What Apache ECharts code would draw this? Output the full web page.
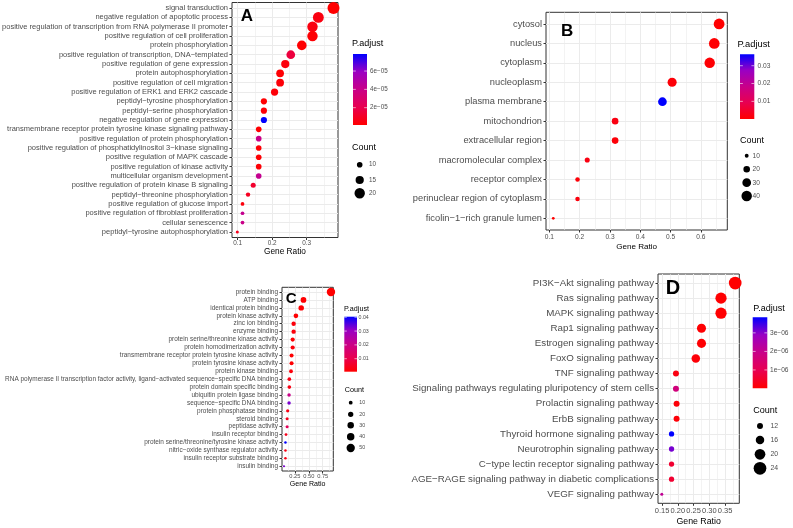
<!DOCTYPE html>
<html><head><meta charset="utf-8">
<script src="https://cdn.jsdelivr.net/npm/echarts@6/dist/echarts.min.js"></script>
<style>html,body{margin:0;padding:0;background:#fff}#c{width:793px;height:528px}</style>
</head><body><div id="c"></div>
<script>
// ---------- Panel A: GO biological process ----------
const termsA = ['signal transduction','negative regulation of apoptotic process','positive regulation of transcription from RNA polymerase II promoter','positive regulation of cell proliferation','protein phosphorylation','positive regulation of transcription, DNA−templated','positive regulation of gene expression','protein autophosphorylation','positive regulation of cell migration','positive regulation of ERK1 and ERK2 cascade','peptidyl−tyrosine phosphorylation','peptidyl−serine phosphorylation','negative regulation of gene expression','transmembrane receptor protein tyrosine kinase signaling pathway','positive regulation of protein phosphorylation','positive regulation of phosphatidylinositol 3−kinase signaling','positive regulation of MAPK cascade','positive regulation of kinase activity','multicellular organism development','positive regulation of protein kinase B signaling','peptidyl−threonine phosphorylation','positive regulation of glucose import','positive regulation of fibroblast proliferation','cellular senescence','peptidyl−tyrosine autophosphorylation'];
const ratioA = [0.378,0.334,0.317,0.317,0.286,0.254,0.238,0.223,0.223,0.207,0.176,0.176,0.176,0.161,0.161,0.161,0.161,0.161,0.161,0.145,0.130,0.114,0.114,0.114,0.099];
const countA = [24,21,20,20,18,16,15,14,14,13,11,11,11,10,10,10,10,10,10,9,8,7,7,7,6];
const padjA = [1.1e-6,5e-6,5e-6,2e-6,1.5e-6,1.6e-5,4e-6,2e-6,3e-6,3e-6,1.5e-6,2.5e-6,7.86e-5,1.5e-6,4e-5,2e-6,2e-6,2.5e-6,4.2e-5,1.2e-5,9e-6,4e-6,4.2e-5,4e-5,8e-6];
const xTicksA = [0.1,0.2,0.3];
const xTickLabelsA = ['0.1','0.2','0.3'];
const xMinorA = [0.15,0.25,0.35];
const cbTicksA = [2e-5,4e-5,6e-5];
const cbLabelsA = ['2e−05','4e−05','6e−05'];
const sizeLegendA = [10,15,20];

// ---------- Panel B: GO cellular component ----------
const termsB = ['cytosol','nucleus','cytoplasm','nucleoplasm','plasma membrane','mitochondrion','extracellular region','macromolecular complex','receptor complex','perinuclear region of cytoplasm','ficolin−1−rich granule lumen'];
const ratioB = [0.66,0.644,0.629,0.505,0.473,0.317,0.317,0.225,0.193,0.193,0.113];
const countB = [42,41,40,32,30,20,20,14,12,12,7];
const padjB = [2e-4,3e-4,5e-4,1e-3,0.0364,2e-3,1e-3,2e-3,1e-3,1.5e-3,1e-4];
const xTicksB = [0.1,0.2,0.3,0.4,0.5,0.6];
const xTickLabelsB = ['0.1','0.2','0.3','0.4','0.5','0.6'];
const xMinorB = [0.15,0.25,0.35,0.45,0.55,0.65];
const cbTicksB = [0.01,0.02,0.03];
const cbLabelsB = ['0.01','0.02','0.03'];
const sizeLegendB = [10,20,30,40];

// ---------- Panel C: GO molecular function ----------
const termsC = ['protein binding','ATP binding','identical protein binding','protein kinase activity','zinc ion binding','enzyme binding','protein serine/threonine kinase activity','protein homodimerization activity','transmembrane receptor protein tyrosine kinase activity','protein tyrosine kinase activity','protein kinase binding','RNA polymerase II transcription factor activity, ligand−activated sequence−specific DNA binding','protein domain specific binding','ubiquitin protein ligase binding','sequence−specific DNA binding','protein phosphatase binding','steroid binding','peptidase activity','insulin receptor binding','protein serine/threonine/tyrosine kinase activity','nitric−oxide synthase regulator activity','insulin receptor substrate binding','insulin binding'];
const ratioC = [0.898,0.404,0.363,0.268,0.227,0.227,0.21,0.21,0.19,0.19,0.18,0.15,0.15,0.145,0.145,0.12,0.11,0.11,0.09,0.08,0.08,0.08,0.054];
const countC = [51,23,21,15,13,13,12,12,11,11,10,9,9,8,8,7,6,6,5,4,4,4,3];
const padjC = [0.0006,0.0008,0.001,0.0008,0.002,0.002,0.001,0.002,0.001,0.001,0.002,0.003,0.003,0.0205,0.0325,0.003,0.004,0.012,0.004,0.0404,0.003,0.003,0.0325];
const xTicksC = [0.25,0.5,0.75];
const xTickLabelsC = ['0.25','0.50','0.75'];
const xMinorC = [0.125,0.375,0.625,0.875];
const cbTicksC = [0.01,0.02,0.03,0.04];
const cbLabelsC = ['0.01','0.02','0.03','0.04'];
const sizeLegendC = [10,20,30,40,50];

// ---------- Panel D: KEGG pathways ----------
const termsD = ['PI3K−Akt signaling pathway','Ras signaling pathway','MAPK signaling pathway','Rap1 signaling pathway','Estrogen signaling pathway','FoxO signaling pathway','TNF signaling pathway','Signaling pathways regulating pluripotency of stem cells','Prolactin signaling pathway','ErbB signaling pathway','Thyroid hormone signaling pathway','Neurotrophin signaling pathway','C−type lectin receptor signaling pathway','AGE−RAGE signaling pathway in diabetic complications','VEGF signaling pathway'];
const ratioD = [0.382,0.337,0.337,0.275,0.275,0.257,0.194,0.194,0.196,0.196,0.18,0.18,0.18,0.18,0.149];
const countD = [24,21,21,17,17,16,12,12,12,12,11,11,11,11,8];
const padjD = [1e-8,3e-8,3e-8,5e-8,5e-8,1e-7,2e-7,1.7e-6,1e-7,1e-7,3.84e-6,3.1e-6,6e-7,6e-7,2.1e-6];
const xTicksD = [0.15,0.2,0.25,0.3,0.35];
const xTickLabelsD = ['0.15','0.20','0.25','0.30','0.35'];
const xMinorD = [0.175,0.225,0.275,0.325,0.375];
const cbTicksD = [1e-6,2e-6,3e-6];
const cbLabelsD = ['1e−06','2e−06','3e−06'];
const sizeLegendD = [12,16,20,24];

// ---------- styling / layout ----------
const FONT = '"Liberation Sans", Arial, Helvetica, sans-serif';
const TEXT = '#4D4D4D';
const GRIDC = '#EBEBEB';
const BORDER = '#333333';
const STOPS = ['#FF0000','#E80050','#C90088','#9A00C3','#0000FF'];

const panels = [
  {letter:'A', terms:termsA, ratio:ratioA, count:countA, padj:padjA, xt:xTicksA, xl:xTickLabelsA, xm:xMinorA,
   cbt:cbTicksA, cbl:cbLabelsA, sl:sizeLegendA,
   grid:{left:232,top:2.5,width:106,height:235}, xmin:0.0835, xmax:0.391,
   yFont:7.5, xFont:6.4, xMargin:2.5, nameFont:8.3, nameGap:10.5,
   size:{cmin:6,cmax:24,dmin:3,dmax:12},
   L:{x:240.7,y:16,font:17},
   cb:{x:353,y:54,w:14,h:71,titleX:352,titleY:44,titleFont:9,labelX:370,font:6.3},
   leg:{titleX:352,titleY:148,titleFont:9,dotX:359.7,dotY:[164.7,180,193.3],labelX:369,font:6.3}},
  {letter:'B', terms:termsB, ratio:ratioB, count:countB, padj:padjB, xt:xTicksB, xl:xTickLabelsB, xm:xMinorB,
   cbt:cbTicksB, cbl:cbLabelsB, sl:sizeLegendB,
   grid:{left:546,top:12.3,width:181.3,height:217.7}, xmin:0.089, xmax:0.687,
   yFont:9.3, xFont:6.6, xMargin:4, nameFont:8.1, nameGap:12.5,
   size:{cmin:7,cmax:42,dmin:2.8,dmax:10.8},
   L:{x:561,y:31.2,font:17},
   cb:{x:740,y:54.3,w:14.3,h:64.7,titleX:737.5,titleY:44.3,titleFont:9.3,labelX:757.5,font:6.6},
   leg:{titleX:740,titleY:141,titleFont:9,dotX:746.7,dotY:[155.7,169.3,182.7,196],labelX:752.5,font:6.6}},
  {letter:'C', terms:termsC, ratio:ratioC, count:countC, padj:padjC, xt:xTicksC, xl:xTickLabelsC, xm:xMinorC,
   cbt:cbTicksC, cbl:cbLabelsC, sl:sizeLegendC,
   grid:{left:282,top:287.3,width:51.3,height:183.7}, xmin:0.018, xmax:0.94,
   yFont:6.45, xFont:5.7, xMargin:2.5, nameFont:7.05, nameGap:9.5,
   size:{cmin:3,cmax:51,dmin:2.2,dmax:8.4},
   L:{x:285.7,y:298.8,font:15},
   cb:{x:344.3,y:316.7,w:12.7,h:55,titleX:344,titleY:309.3,titleFont:7.2,labelX:358.5,font:5.3},
   leg:{titleX:344.7,titleY:390.5,titleFont:7.2,dotX:350.7,dotY:[402.7,414.3,425.3,436.7,448],labelX:359.3,font:5.3}},
  {letter:'D', terms:termsD, ratio:ratioD, count:countD, padj:padjD, xt:xTicksD, xl:xTickLabelsD, xm:xMinorD,
   cbt:cbTicksD, cbl:cbLabelsD, sl:sizeLegendD,
   grid:{left:658,top:274,width:81.3,height:229.3}, xmin:0.137, xmax:0.395,
   yFont:9.75, xFont:7.5, xMargin:4, nameFont:8.8, nameGap:13.5,
   size:{cmin:8,cmax:24,dmin:3,dmax:12.7},
   L:{x:665.7,y:288.9,font:20},
   cb:{x:752.7,y:317.3,w:14.6,h:71,titleX:753.3,titleY:308.3,titleFont:9,labelX:770,font:6.6},
   leg:{titleX:753.3,titleY:410.3,titleFont:9,dotX:760,dotY:[426,440,454.3,468.3],labelX:770.5,font:6.9}}
];

function sizeFn(p){
  const s0 = Math.sqrt(p.cmin), s1 = Math.sqrt(p.cmax);
  return c => p.dmin + (Math.sqrt(c) - s0) / (s1 - s0) * (p.dmax - p.dmin);
}
function labelFor(ticks, labels){
  return v => { for (let i = 0; i < ticks.length; i++) if (Math.abs(ticks[i] - v) < 1e-9) return labels[i]; return ''; };
}

const grid = [], xAxis = [], yAxis = [], series = [], visualMap = [], graphic = [];
const gradient = {type:'linear', x:0, y:1, x2:0, y2:0,
  colorStops: STOPS.map((c, i) => ({offset: i / (STOPS.length - 1), color: c}))};

panels.forEach((p, i) => {
  const sf = sizeFn(p.size);
  const pmin = Math.min(...p.padj), pmax = Math.max(...p.padj);
  const n = p.terms.length;
  const idx = p.terms.map((_, k) => k);
  grid.push(Object.assign({show:true, borderColor:BORDER, borderWidth:1, backgroundColor:'#fff',
    containLabel:false, outerBoundsMode:'none'}, p.grid));
  xAxis.push({gridIndex:i, type:'value', min:p.xmin, max:p.xmax, position:'bottom',
    axisLine:{show:false, onZero:false},
    axisTick:{show:true, length:2.5, lineStyle:{color:BORDER, width:1}, customValues:p.xt},
    axisLabel:{customValues:p.xt, formatter:labelFor(p.xt, p.xl), fontSize:p.xFont, color:TEXT, margin:p.xMargin, fontFamily:FONT},
    splitLine:{show:true, lineStyle:{color:GRIDC, width:1}},
    name:'Gene Ratio', nameLocation:'middle', nameGap:p.nameGap,
    nameTextStyle:{fontSize:p.nameFont, color:'#000', fontFamily:FONT}});
  xAxis.push({gridIndex:i, type:'value', min:p.xmin, max:p.xmax, position:'top',
    axisLine:{show:false, onZero:false},
    axisTick:{show:false, length:0, lineStyle:{color:'rgba(0,0,0,0)', width:0}, customValues:p.xm},
    axisLabel:{show:false, customValues:p.xm},
    splitLine:{show:true, lineStyle:{color:GRIDC, width:0.6}}});
  yAxis.push({gridIndex:i, type:'value', inverse:true, min:-0.6, max:n - 0.4,
    axisLine:{show:false, onZero:false},
    axisTick:{show:true, length:2.5, lineStyle:{color:BORDER, width:1}, customValues:idx},
    axisLabel:{customValues:idx, formatter:v => p.terms[Math.round(v)], fontSize:p.yFont, color:TEXT, margin:4, fontFamily:FONT},
    splitLine:{show:true, lineStyle:{color:GRIDC, width:1}}});
  series.push({type:'scatter', xAxisIndex:2 * i, yAxisIndex:i,
    data:p.terms.map((t, k) => [p.ratio[k], k, p.count[k], p.padj[k], t]),
    symbolSize:v => sf(v[2]), itemStyle:{opacity:1}, emphasis:{disabled:true}, clip:false});
  visualMap.push({type:'continuous', show:false, seriesIndex:i, dimension:3, min:pmin, max:pmax,
    inRange:{color:STOPS}});

  // panel letter
  graphic.push({type:'text', x:p.L.x, y:p.L.y, z:100,
    style:{text:p.letter, fontSize:p.L.font, fontWeight:'bold', fontFamily:FONT, fill:'#000', verticalAlign:'middle', align:'left'}});
  // colour bar
  const cb = p.cb;
  graphic.push({type:'text', x:cb.titleX, y:cb.titleY,
    style:{text:'P.adjust', fontSize:cb.titleFont, fontFamily:FONT, fill:'#000', verticalAlign:'middle', align:'left'}});
  graphic.push({type:'rect', shape:{x:cb.x, y:cb.y, width:cb.w, height:cb.h}, style:{fill:gradient}});
  p.cbt.forEach((v, k) => {
    const y = cb.y + cb.h * (1 - (v - pmin) / (pmax - pmin));
    graphic.push({type:'line', shape:{x1:cb.x, y1:y, x2:cb.x + cb.w * 0.2, y2:y}, style:{stroke:'#fff', lineWidth:0.6}});
    graphic.push({type:'line', shape:{x1:cb.x + cb.w * 0.8, y1:y, x2:cb.x + cb.w, y2:y}, style:{stroke:'#fff', lineWidth:0.6}});
    graphic.push({type:'text', x:cb.labelX, y:y,
      style:{text:p.cbl[k], fontSize:cb.font, fontFamily:FONT, fill:TEXT, verticalAlign:'middle', align:'left'}});
  });
  // size legend
  const lg = p.leg;
  graphic.push({type:'text', x:lg.titleX, y:lg.titleY,
    style:{text:'Count', fontSize:lg.titleFont, fontFamily:FONT, fill:'#000', verticalAlign:'middle', align:'left'}});
  p.sl.forEach((v, k) => {
    graphic.push({type:'circle', shape:{cx:lg.dotX, cy:lg.dotY[k], r:sf(v) / 2}, style:{fill:'#000'}});
    graphic.push({type:'text', x:lg.labelX, y:lg.dotY[k],
      style:{text:String(v), fontSize:lg.font, fontFamily:FONT, fill:TEXT, verticalAlign:'middle', align:'left'}});
  });
});

const chart = echarts.init(document.getElementById('c'), null, {renderer:'canvas'});
chart.setOption({animation:false, backgroundColor:'#fff', textStyle:{fontFamily:FONT},
  grid, xAxis, yAxis, series, visualMap, graphic});
</script></body></html>
